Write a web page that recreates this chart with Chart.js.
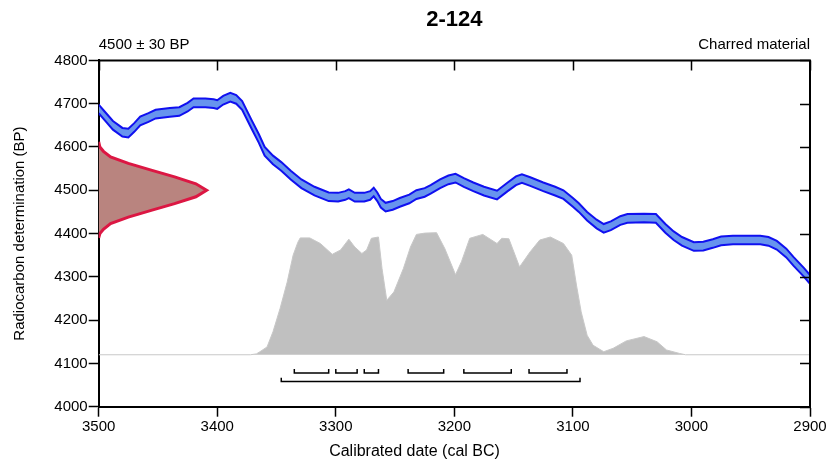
<!DOCTYPE html>
<html>
<head>
<meta charset="utf-8">
<title>2-124</title>
<script src="https://cdn.jsdelivr.net/npm/chart.js@4.4.0/dist/chart.umd.min.js"></script>
<style>
    html, body { margin: 0; padding: 0; background: #fff; }
</style>
</head>
<body>
<canvas id="chart" width="829" height="464"></canvas>
<script>
// Calibration curve (cal BC vs BP), band edges
const curveYears = [3500, 3495, 3488, 3480, 3475, 3470, 3465, 3458, 3452, 3440, 3432, 3425, 3420, 3410, 3403, 3400,
    3395, 3389, 3384, 3379, 3371, 3365, 3360, 3353, 3346, 3338, 3329, 3318, 3306, 3298, 3292, 3289, 3284, 3276,
    3271, 3268, 3265, 3262, 3258, 3252, 3246, 3238, 3232, 3225, 3220, 3212, 3205, 3199, 3192, 3184, 3175, 3164,
    3155, 3148, 3143, 3136, 3125, 3115, 3108, 3100, 3095, 3088, 3080, 3074, 3068, 3060, 3054, 3040, 3030, 3022,
    3015, 3008, 2998, 2990, 2982, 2975, 2965, 2950, 2942, 2935, 2928, 2920, 2914, 2905, 2900];
const curveUpper = [4698, 4682, 4660, 4644, 4642, 4655, 4670, 4678, 4686, 4690, 4692, 4702, 4712, 4712, 4710, 4708,
    4718, 4725, 4720, 4706, 4662, 4630, 4600, 4580, 4565, 4545, 4525, 4508, 4495, 4494, 4498, 4502, 4494, 4494,
    4498, 4506, 4495, 4480, 4471, 4475, 4482, 4490, 4500, 4505, 4512, 4525, 4534, 4538, 4528, 4518, 4508, 4499,
    4518, 4532, 4537, 4530, 4518, 4508, 4500, 4482, 4470, 4450, 4432, 4422, 4428, 4440, 4445, 4446, 4445, 4422,
    4405, 4392, 4380, 4381, 4387, 4393, 4395, 4395, 4395, 4392, 4383, 4365, 4346, 4320, 4304];
const curveLower = [4678, 4662, 4640, 4624, 4622, 4635, 4650, 4658, 4666, 4670, 4672, 4682, 4692, 4692, 4690, 4688,
    4698, 4705, 4700, 4686, 4642, 4610, 4580, 4560, 4545, 4525, 4505, 4488, 4475, 4474, 4478, 4482, 4474, 4474,
    4478, 4486, 4475, 4460, 4451, 4455, 4462, 4470, 4480, 4485, 4492, 4505, 4514, 4518, 4508, 4498, 4488, 4479,
    4498, 4512, 4517, 4510, 4498, 4488, 4480, 4462, 4450, 4430, 4412, 4402, 4408, 4420, 4425, 4426, 4425, 4402,
    4385, 4372, 4360, 4361, 4367, 4373, 4375, 4375, 4375, 4372, 4363, 4345, 4326, 4300, 4284];

// Radiocarbon measurement (BP) and the extent of its distribution (cal BC)
const measBP = [4390, 4400, 4410, 4423, 4438, 4454, 4469, 4485, 4500, 4515, 4531, 4546, 4562, 4577, 4590, 4600, 4612];
const measYears = [3500, 3499, 3496, 3490, 3475, 3455, 3436, 3418, 3409, 3418, 3436, 3455, 3475, 3490, 3496, 3499, 3500];

// Calibrated probability distribution
const probYears = [3500, 3372, 3367, 3364, 3358, 3353, 3347, 3341, 3336, 3332, 3330, 3322, 3313, 3303, 3296, 3289,
    3284, 3278, 3274, 3270, 3264, 3261, 3257, 3251, 3243, 3237, 3232, 3225, 3215, 3208, 3199, 3194, 3187, 3176,
    3164, 3160, 3154, 3145, 3136, 3128, 3119, 3108, 3101, 3097, 3093, 3088, 3083, 3074, 3066, 3055, 3040, 3029,
    3021, 3010, 3005, 2900];
const probBP = [4120, 4120, 4122, 4127, 4138, 4173, 4227, 4288, 4350, 4380, 4390, 4390, 4377, 4352, 4362, 4387,
    4369, 4354, 4362, 4389, 4392, 4319, 4246, 4265, 4319, 4369, 4398, 4401, 4402, 4365, 4305, 4335, 4389, 4398,
    4377, 4389, 4388, 4323, 4358, 4385, 4392, 4377, 4350, 4281, 4219, 4165, 4142, 4127, 4135, 4152, 4162, 4150,
    4131, 4123, 4120, 4120];
const probBase = 4120;

// Highest probability ranges (cal BC)
const range68 = [[3335, 3306], [3300, 3282], [3276, 3264], [3239, 3209], [3192, 3152], [3137, 3105]];
const range95 = [[3346, 3094]];

const xTicks = [3500, 3400, 3300, 3200, 3100, 3000, 2900];
const titleText = '2-124';
const sampleLabel = '4500 \u00b1 30 BP';
const materialLabel = 'Charred material';
const xTitle = 'Calibrated date (cal BC)';

const FONT = '"Liberation Sans", Arial, sans-serif';

/**
 * Turn a cal range into a small bracket shape
 */
function bracketPoints(range, level) {
    return [
        { x: range[0], y: level + 9 },
        { x: range[0], y: level },
        { x: range[1], y: level },
        { x: range[1], y: level + 9 }
    ];
}

function bracketDataset(range, level) {
    return {
        data: bracketPoints(range, level),
        borderColor: '#000',
        borderWidth: 1.5,
        pointRadius: 0,
        fill: false,
        tension: 0
    };
}

// Inward ticks on top/right, box, header labels and x title
const framePlugin = {
    id: 'frame',
    afterDraw(chart) {
        const { ctx, chartArea: a, scales: { x, y } } = chart;
        ctx.save();
        ctx.strokeStyle = '#000';
        ctx.lineWidth = 2;
        ctx.beginPath();
        ctx.moveTo(a.left, a.top);
        ctx.lineTo(a.right, a.top);
        ctx.lineTo(a.right, a.bottom);
        ctx.stroke();

        ctx.lineWidth = 1.5;
        ctx.beginPath();
        x.ticks.forEach(t => {
            const px = Math.round(x.getPixelForValue(t.value)) + 0.5;
            ctx.moveTo(px, a.top);
            ctx.lineTo(px, a.top + 10);
        });
        y.ticks.forEach(t => {
            const py = Math.round(y.getPixelForValue(t.value)) + 0.5;
            ctx.moveTo(a.right, py);
            ctx.lineTo(a.right - 10, py);
        });
        ctx.stroke();

        ctx.fillStyle = '#000';
        ctx.font = '15px ' + FONT;
        ctx.textBaseline = 'middle';
        ctx.textAlign = 'left';
        ctx.fillText(sampleLabel, a.left, a.top - 16);
        ctx.textAlign = 'right';
        ctx.fillText(materialLabel, a.right, a.top - 16);

        // x title sits centred on the page, not the plot
        ctx.font = '16px ' + FONT;
        ctx.textAlign = 'center';
        ctx.fillText(xTitle, chart.width / 2, 452);
        ctx.restore();
    }
};

const datasets = [
    // red measurement distribution
    {
        data: measBP.map((v, i) => ({ x: measYears[i], y: v })),
        borderColor: '#dc1743',
        backgroundColor: '#b9847f',
        borderWidth: 3,
        pointRadius: 0,
        fill: 'shape',
        tension: 0
    },
    // calibration band
    {
        data: curveYears.map((yr, i) => ({ x: yr, y: curveUpper[i] })),
        borderColor: '#1010f0',
        backgroundColor: '#6794ee',
        borderWidth: 2,
        pointRadius: 0,
        fill: '+1',
        tension: 0
    },
    {
        data: curveYears.map((yr, i) => ({ x: yr, y: curveLower[i] })),
        borderColor: '#1010f0',
        borderWidth: 2,
        pointRadius: 0,
        fill: false,
        tension: 0
    },
    // calibrated distribution
    {
        data: probYears.map((yr, i) => ({ x: yr, y: probBP[i] })),
        borderColor: '#c8c8c8',
        backgroundColor: '#c0c0c0',
        borderWidth: 1,
        pointRadius: 0,
        fill: { value: probBase },
        tension: 0
    }
];

range68.forEach(r => datasets.push(bracketDataset(r, 4078)));
range95.forEach(r => datasets.push(bracketDataset(r, 4058)));

new Chart(document.getElementById('chart'), {
    type: 'line',
    data: { datasets },
    options: {
        responsive: false,
        animation: false,
        layout: { padding: { top: 0, right: 19, bottom: 0, left: 0 } },
        scales: {
            x: {
                type: 'linear',
                reverse: true,
                min: 2900,
                max: 3500,
                afterBuildTicks: s => { s.ticks = xTicks.map(v => ({ value: v })); },
                afterFit: s => { s.height = 57.3; },
                ticks: {
                    color: '#000',
                    font: { family: FONT, size: 15 },
                    padding: 1,
                    maxRotation: 0,
                    callback: v => String(v)
                },
                grid: { drawOnChartArea: false, tickLength: 10, tickWidth: 1.5, tickColor: '#000' },
                border: { color: '#000', width: 2 },
                title: { display: false }
            },
            y: {
                min: 4000,
                max: 4800,
                afterFit: s => { s.width = 98.7; },
                ticks: {
                    stepSize: 100,
                    color: '#000',
                    font: { family: FONT, size: 15 },
                    padding: 1,
                    callback: v => String(v)
                },
                grid: { drawOnChartArea: false, tickLength: 10, tickWidth: 1.5, tickColor: '#000' },
                border: { color: '#000', width: 2 },
                title: {
                    display: true,
                    text: 'Radiocarbon determination (BP)',
                    color: '#000',
                    font: { family: FONT, size: 15 },
                    padding: { top: 11, bottom: 0 }
                }
            }
        },
        plugins: {
            legend: { display: false },
            tooltip: { enabled: false },
            filler: { drawTime: 'beforeDatasetsDraw' },
            title: {
                display: true,
                text: titleText,
                fullSize: false,
                color: '#000',
                font: { family: FONT, size: 22, weight: 'bold' },
                padding: { top: 7, bottom: 27 }
            }
        }
    },
    plugins: [framePlugin]
});
</script>
</body>
</html>
